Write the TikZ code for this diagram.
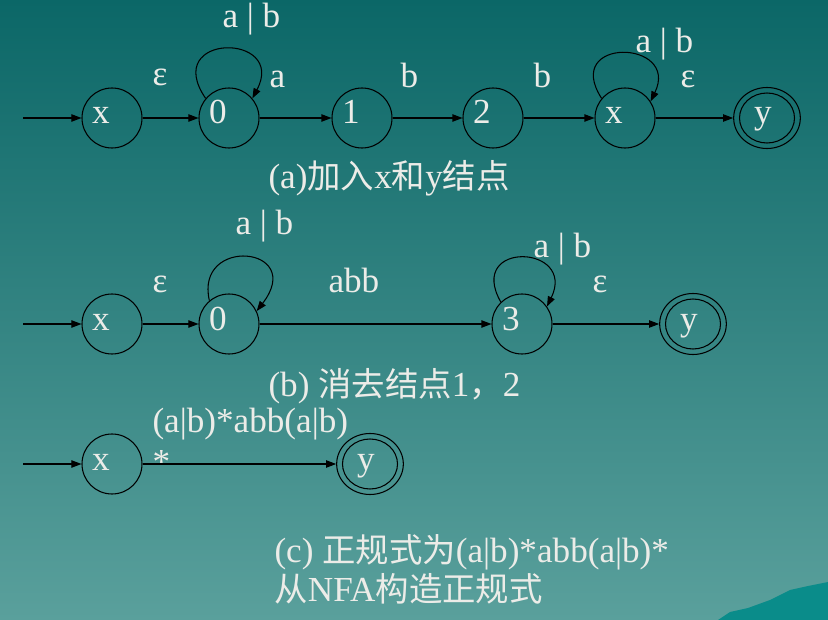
\documentclass[tikz,border=0pt]{standalone}
\usepackage{fontspec}
\setmainfont{Liberation Serif}
\newfontfamily\cjk[Scale=0.95]{Noto Sans CJK SC}
\usepackage{tikz}
\usetikzlibrary{positioning,arrows.meta,shapes.geometric}

\definecolor{bgtop}{RGB}{11,103,103}
\definecolor{bgbot}{RGB}{90,160,156}
\definecolor{chalk}{RGB}{236,236,232}
\definecolor{hill}{RGB}{10,140,138}

\tikzset{
  big/.style={font=\fontsize{30}{36}\selectfont},
  state/.style={circle,draw,line width=0.9pt,minimum size=1.8cm,inner sep=0pt,big,text=chalk,
    text height=0.46cm,text depth=0.1cm,execute at end node={\hspace{0.66cm}}},
  accept/.style={ellipse,draw,line width=0.9pt,minimum width=2.0cm,minimum height=1.83cm,inner sep=0pt,big,text=chalk,
    text height=0.46cm,text depth=0.1cm,execute at end node={\hspace{0.24cm}},
    label={[ellipse,draw,line width=0.9pt,minimum width=1.65cm,minimum height=1.5cm,inner sep=0pt]center:}},
  lbl/.style={anchor=base west,inner sep=0pt,big,text=chalk},
}

\begin{document}
\begin{tikzpicture}[x=0.03cm,y=-0.03cm,line width=0.9pt,>={Triangle[length=0.3cm,width=0.22cm]}]
    \useasboundingbox (0,0) rectangle (828,620);
    \shade[top color=bgtop,bottom color=bgbot] (0,0) rectangle (828,620);
    \fill[hill] (718,620) -- (730,612) -- (748,608) -- (770,600) -- (790,590) -- (808,586) -- (828,582) -- (828,620) -- cycle;

    % (a)
    \coordinate (sa) at (23,118);
    \node[state] (xa) at (112,118) {x};
    \node[state] (a0) at (229,118) {0};
    \node[state] (a1) at (362,118) {1};
    \node[state] (a2) at (493,118) {2};
    \node[state] (ax) at (625,118) {x};
    \node[accept] (ay) at (767,118) {y};
    \draw[->] (sa) -- (xa);
    \draw[->] (xa) -- (a0);
    \draw[->] (a0) -- (a1);
    \draw[->] (a1) -- (a2);
    \draw[->] (a2) -- (ax);
    \draw[->] (ax) -- (ay);
    \draw[->] (a0.140) .. controls +(-45,-66) and +(35,-66) .. (a0.40);
    \draw[->] (ax.140) .. controls +(-40,-62) and +(30,-62) .. (ax.33);
    \node[lbl] (la1) at (222,28) {a | b};
    \node[lbl] (la2) at (152,86) {ε};
    \node[lbl] (la3) at (269,88) {a};
    \node[lbl] (la4) at (400,88) {b};
    \node[lbl] (la5) at (533,88) {b};
    \node[lbl] (la6) at (635,53) {a | b};
    \node[lbl] (la7) at (680,88) {ε};
    \node[lbl] (capa) at (268,189) {(a){\cjk 加入}x{\cjk 和}y{\cjk 结点}};

    % (b)
    \coordinate (sb) at (23,324);
    \node[state] (xb) at (112,324) {x};
    \node[state] (b0) at (229,324) {0};
    \node[state] (b3) at (522,324) {3};
    \node[accept] (by) at (693,324) {y};
    \draw[->] (sb) -- (xb);
    \draw[->] (xb) -- (b0);
    \draw[->] (b0) -- (b3);
    \draw[->] (b3) -- (by);
    \draw[->] (b0.130) .. controls +(-15,-65) and +(50,-65) .. (b0.25);
    \draw[->] (b3.134) .. controls +(-35,-62) and +(30,-62) .. (b3.35);
    \node[lbl] (lb1) at (235,235) {a | b};
    \node[lbl] (lb2) at (152,292) {ε};
    \node[lbl] (lb3) at (328,292) {abb};
    \node[lbl] (lb4) at (533,258) {a | b};
    \node[lbl] (lb5) at (592,292) {ε};
    \node[lbl] (capb) at (268,396) {(b) {\cjk 消去结点}1{\cjk ，}2};

    % (c)
    \coordinate (sc) at (23,464);
    \node[state] (xc) at (112,464) {x};
    \node[accept] (yc) at (370,464) {y};
    \draw[->] (sc) -- (xc);
    \draw[->] (xc) -- (yc);
    \node[lbl,anchor=north west,align=left,font=\fontsize{30}{35}\selectfont] (lc1) at (152,408) {(a|b)*abb(a|b)\\*};
    \node[lbl,anchor=north west,align=left,font=\fontsize{30}{33}\selectfont] (capc) at (274,534)
      {(c) {\cjk 正规式为}(a|b)*abb(a|b)*\\{\cjk 从}NFA{\cjk 构造正规式}};
  \end{tikzpicture}
\end{document}
